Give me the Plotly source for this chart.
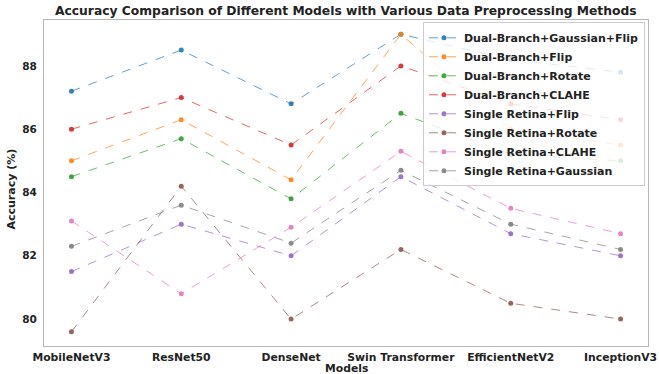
import plotly.graph_objects as go

models = ["MobileNetV3", "ResNet50", "DenseNet", "Swin Transformer", "EfficientNetV2", "InceptionV3"]

series_names = [
    "Dual-Branch+Gaussian+Flip",
    "Dual-Branch+Flip",
    "Dual-Branch+Rotate",
    "Dual-Branch+CLAHE",
    "Single Retina+Flip",
    "Single Retina+Rotate",
    "Single Retina+CLAHE",
    "Single Retina+Gaussian",
]

dual_gauss_flip = [87.2, 88.5, 86.8, 89.0, 88.2, 87.8]
dual_flip = [85.0, 86.3, 84.4, 89.0, 86.0, 85.5]
dual_rotate = [84.5, 85.7, 83.8, 86.5, 85.2, 85.0]
dual_clahe = [86.0, 87.0, 85.5, 88.0, 86.8, 86.3]
single_flip = [81.5, 83.0, 82.0, 84.5, 82.7, 82.0]
single_rotate = [79.6, 84.2, 80.0, 82.2, 80.5, 80.0]
single_clahe = [83.1, 80.8, 82.9, 85.3, 83.5, 82.7]
single_gauss = [82.3, 83.6, 82.4, 84.7, 83.0, 82.2]

all_values = [dual_gauss_flip, dual_flip, dual_rotate, dual_clahe,
              single_flip, single_rotate, single_clahe, single_gauss]

colors = ["31,119,180", "255,127,14", "44,160,44", "214,39,40",
          "148,103,189", "140,86,75", "227,119,194", "127,127,127"]

FONT = "DejaVu Sans"

fig = go.Figure()
for name, vals, c in zip(series_names, all_values, colors):
    fig.add_trace(go.Scatter(
        x=models, y=vals, name=name, mode="lines+markers",
        line=dict(color=f"rgba({c},0.7)", width=1, dash="dash"),
        marker=dict(color=f"rgba({c},0.9)", size=5),
    ))

fig.update_layout(
    width=659, height=374,
    margin=dict(l=44, r=11, t=20, b=28),
    paper_bgcolor="white", plot_bgcolor="white",
    font=dict(family=FONT, size=11, color="#222"),
    showlegend=True,
    legend=dict(
        x=0.995, xanchor="right", y=0.993, yanchor="top",
        bgcolor="rgba(255,255,255,0.8)", bordercolor="#cccccc", borderwidth=1,
        font=dict(family=FONT, size=11, color="#222", weight="bold"),
        tracegroupgap=0,
    ),
    xaxis=dict(
        range=[-0.25, 5.25], showgrid=False, zeroline=False, automargin=False,
        showline=True, linecolor="#b5b5b5", linewidth=1, mirror=True,
        ticks="", ticklabelstandoff=1,
        tickfont=dict(family=FONT, size=10.8, color="#222", weight="bold"),
    ),
    yaxis=dict(
        range=[79.15, 89.45], showgrid=False, zeroline=False, automargin=False,
        tickvals=[80, 82, 84, 86, 88],
        showline=True, linecolor="#b5b5b5", linewidth=1, mirror=True,
        ticks="", ticklabelstandoff=4,
        tickfont=dict(family=FONT, size=10.5, color="#222", weight="bold"),
    ),
    annotations=[
        dict(text="<b>Accuracy Comparison of Different Models with Various Data Preprocessing Methods</b>",
             xref="paper", yref="paper", x=0.5, y=1.0, yshift=9, xanchor="center", yanchor="middle",
             showarrow=False, font=dict(family=FONT, size=12.3, color="#222")),
        dict(text="<b>Models</b>", xref="paper", yref="paper", x=0.5, y=0, yshift=-22,
             xanchor="center", yanchor="middle", showarrow=False,
             font=dict(family=FONT, size=10.8, color="#222")),
        dict(text="<b>Accuracy (%)</b>", xref="paper", yref="paper", x=0, xshift=-32, y=0.48,
             xanchor="center", yanchor="middle", textangle=-90, showarrow=False,
             font=dict(family=FONT, size=11, color="#222")),
    ],
)

fig.write_html("out.html", config={"displayModeBar": False},
               post_script="document.body.style.margin='0';")
